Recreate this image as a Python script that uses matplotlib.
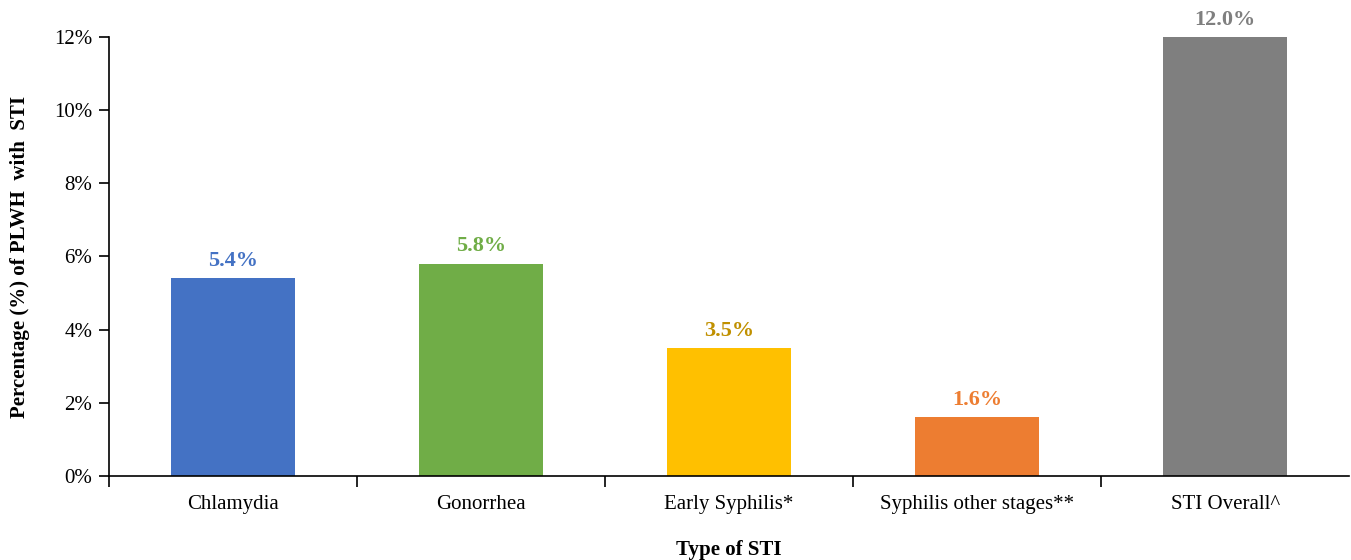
import numpy as np
import matplotlib.pyplot as plt

# data
categories = ['Chlamydia', 'Gonorrhea', 'Early Syphilis*', 'Syphilis other stages**', 'STI Overall^']
values = [5.4, 5.8, 3.5, 1.6, 12.0]
bar_colors = ['#4472C4', '#70AD47', '#FFC000', '#ED7D31', '#7F7F7F']
label_colors = ['#4472C4', '#70AD47', '#C09000', '#ED7D31', '#7F7F7F']
y_ticks = [0, 2, 4, 6, 8, 10, 12]

plt.rcParams['font.family'] = ['Liberation Serif', 'DejaVu Serif']

fig = plt.figure(figsize=(13.51, 5.6), dpi=100)
ax = fig.add_axes([0.0807, 0.15, 0.918, 0.784])

x = np.arange(len(categories))
ax.bar(x, values, width=0.5, color=bar_colors)
for xi, v, c in zip(x, values, label_colors):
    ax.text(xi, v + 0.2, '%.1f%%' % v, ha='center', va='bottom',
            fontsize=16, fontweight='bold', color=c)

ax.set_xlim(-0.5, len(categories) - 0.5)
ax.set_ylim(0, 12)
ax.set_yticks(y_ticks)
ax.set_yticklabels(['%d%%' % t for t in y_ticks], fontsize=15)
ax.set_xticks(x)
ax.set_xticklabels(categories, fontsize=15)
ax.tick_params(axis='x', length=0, pad=14)
# category separators, none at the right end
ax.set_xticks(np.arange(len(categories)) - 0.5, minor=True)
ax.tick_params(axis='x', which='minor', length=8, width=1.2, direction='out')
ax.tick_params(axis='y', length=7, width=1.2, color='black', pad=5)

for s in ['top', 'right']:
    ax.spines[s].set_visible(False)
ax.spines['left'].set_linewidth(1.2)
ax.spines['bottom'].set_linewidth(1.2)

ax.set_ylabel('Percentage (%) of PLWH  with  STI', fontsize=15, fontweight='bold')
ax.set_xlabel('Type of STI', fontsize=15, fontweight='bold')
ax.yaxis.set_label_coords(-0.0718, 0.5)
ax.yaxis.label.set_va('center')
ax.xaxis.set_label_coords(0.5, -0.168)
ax.xaxis.label.set_va('center')

plt.savefig('out.png', dpi=100)
